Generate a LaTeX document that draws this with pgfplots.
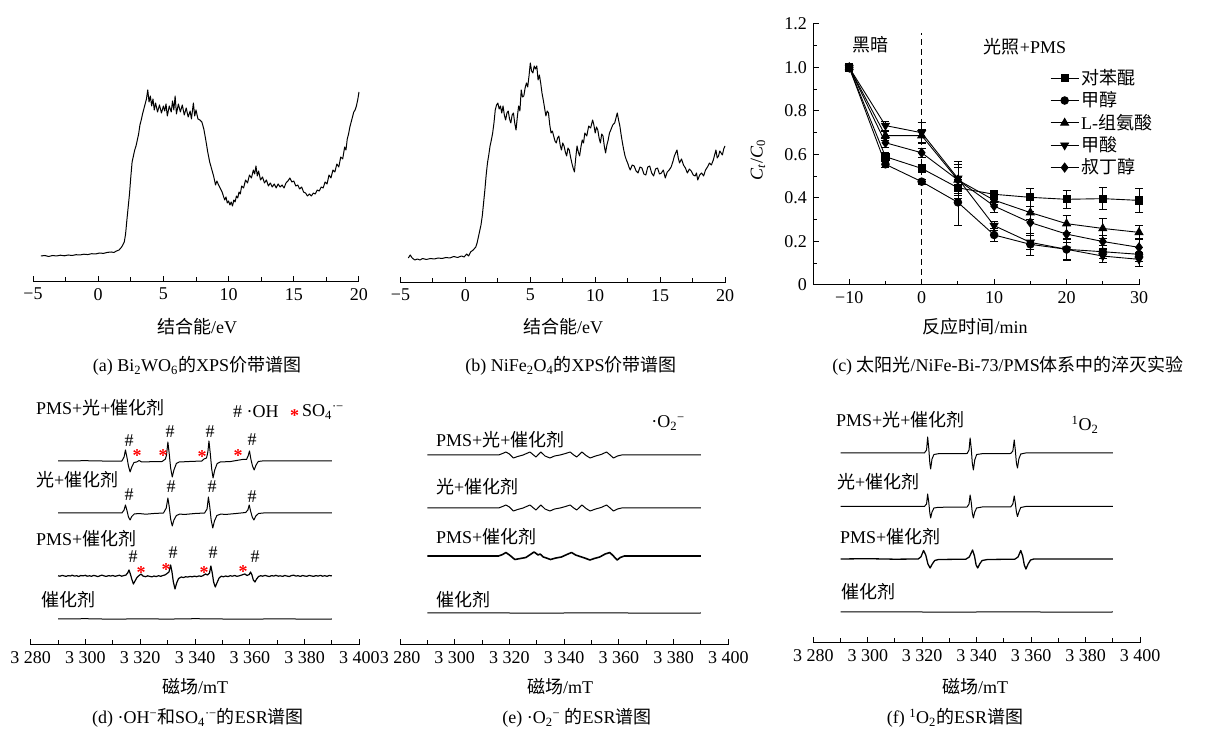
\documentclass[border=0pt]{standalone}
\usepackage{fontspec}
\setmainfont{Liberation Serif}
\newfontfamily\cjk{Noto Sans CJK SC}
\usepackage{pgfplots}
\pgfplotsset{compat=1.18}
\newcommand{\zh}[1]{{\cjk #1}}
\pgfplotsset{
  spec/.style={scale only axis, axis x line*=bottom, axis y line=none, ytick=\empty,
    axis line style={-,line width=1pt}, tick align=inside, major tick length=6pt, minor tick length=5pt,
    every tick/.style={line width=1pt,black}, clip=false,
    tick label style={font=\fontsize{18}{20}\selectfont}},
  xps/.style={spec, xmin=-5, xmax=20, ymin=0, ymax=262, height=262pt,
    xtick={-5,0,5,10,15,20}, xticklabels={−5,0,5,10,15,20}, minor xtick={-2.5,2.5,7.5,12.5,17.5}},
  esr/.style={spec, xmin=3280, xmax=3400, ymin=0, ymax=220, height=220pt,
    xtick={3280,3300,3320,3340,3360,3380,3400},
    xticklabels={3 280,3 300,3 320,3 340,3 360,3 380,3 400},
    minor xtick={3290,3310,3330,3350,3370,3390}},
  tr/.style={black, line width=1pt, line join=round},
  qc/.style={black, line width=0.9pt, mark size=4pt,
    error bars/y dir=both, error bars/y explicit,
    error bars/error bar style={line width=0.7pt,black},
    error bars/error mark options={rotate=90, mark size=4pt, line width=0.7pt, black}},
}
\begin{document}
\fontsize{18}{21}\selectfont
\begin{tikzpicture}
\useasboundingbox (0,0) rectangle (1208pt,731pt);
% ---------------- (a)
\begin{axis}[xps, width=326pt, at={(33pt,449pt)}, anchor=south west]
\addplot[tr] coordinates {(-4.4,26)(-4.1,26.5)(-3.8,25.5)(-3.5,26.5)(-3.2,26)(-2.9,26.8)(-2.6,26.2)(-2.3,27)(-2.0,26.5)(-1.7,27.3)(-1.4,27)(-1.1,27.8)(-0.8,27.4)(-0.5,28.3)(-0.2,28)(0.1,29)(0.4,28.6)(0.7,29.6)(1.0,30)(1.2,29.5)(1.4,31)(1.6,32)(1.8,35)(2.0,40)(2.1,48)(2.2,62)(2.3,75)(2.4,88)(2.5,105)(2.6,120)(2.7,126)(2.8,132)(2.9,136)(3.0,142)(3.1,148)(3.2,157)(3.3,162)(3.4,168)(3.5,173)(3.6,178)(3.7,183)(3.8,192)(3.9,180)(4.0,186)(4.1,176)(4.2,183)(4.3,172)(4.4,179)(4.55,170)(4.7,177)(4.85,169)(5.0,176)(5.1,171)(5.2,178)(5.3,166)(5.45,176)(5.6,170)(5.7,181)(5.8,172)(5.9,186)(6.0,168)(6.15,178)(6.3,170)(6.45,177)(6.6,167)(6.75,174)(6.9,165)(7.05,171)(7.15,163)(7.3,179)(7.4,166)(7.5,172)(7.65,163)(7.8,162)(7.95,160)(8.1,153)(8.25,142)(8.4,130)(8.55,120)(8.7,113)(8.85,106)(9.0,97)(9.1,101)(9.2,98)(9.35,94)(9.5,90)(9.6,86)(9.7,82)(9.8,85)(9.9,79)(10.0,81)(10.1,77)(10.2,80)(10.3,76)(10.4,82)(10.5,80)(10.6,86)(10.7,84)(10.8,90)(10.9,88)(11.0,96)(11.15,94)(11.3,102)(11.45,99)(11.6,107)(11.75,104)(11.9,112)(12.0,108)(12.1,116)(12.2,106)(12.3,111)(12.45,102)(12.6,105)(12.75,99)(12.9,102)(13.05,96)(13.2,99)(13.35,95)(13.5,98)(13.65,94)(13.8,98)(13.95,95)(14.1,97)(14.25,94)(14.4,99)(14.55,101)(14.7,104)(14.85,100)(15.0,101)(15.15,96)(15.3,97)(15.45,93)(15.6,95)(15.75,90)(15.9,89)(16.05,86)(16.2,88)(16.35,86)(16.5,89)(16.65,88)(16.8,92)(16.95,91)(17.1,95)(17.25,94)(17.4,100)(17.55,98)(17.7,107)(17.85,104)(18.0,112)(18.15,110)(18.3,118)(18.45,115)(18.6,125)(18.75,123)(18.9,135)(19.0,132)(19.1,143)(19.2,148)(19.3,155)(19.4,160)(19.5,165)(19.6,170)(19.7,172)(19.8,176)(19.9,182)(20.0,190)};
\end{axis}
% ---------------- (b)
\begin{axis}[xps, width=324.5pt, at={(400.5pt,448pt)}, anchor=south west]
\addplot[tr] coordinates {(-4.4,25)(-4.25,28)(-4.1,25)(-3.9,23)(-3.7,24)(-3.5,23)(-3.3,24.5)(-3.0,23.5)(-2.7,24.5)(-2.4,24)(-2.1,25)(-1.8,24.5)(-1.5,25.5)(-1.2,25)(-0.9,26.5)(-0.6,25.5)(-0.3,27)(-0.1,26)(0.1,29)(0.25,27)(0.4,31)(0.6,33)(0.8,36)(0.9,40)(1.0,46)(1.1,52)(1.2,58)(1.3,67)(1.4,80)(1.5,93)(1.6,108)(1.7,120)(1.8,128)(1.9,137)(2.0,143)(2.1,150)(2.2,160)(2.3,173)(2.4,178)(2.5,180)(2.6,174)(2.7,177)(2.8,170)(2.9,177)(3.0,168)(3.1,163)(3.2,170)(3.3,172)(3.4,164)(3.5,160)(3.6,168)(3.7,170)(3.8,160)(3.9,153)(4.0,166)(4.1,177)(4.2,172)(4.3,193)(4.4,186)(4.5,187)(4.6,195)(4.7,200)(4.8,196)(4.9,207)(5.0,220)(5.1,212)(5.2,210)(5.3,217)(5.4,214)(5.5,217)(5.6,203)(5.7,208)(5.8,200)(5.9,190)(6.0,183)(6.1,175)(6.2,167)(6.3,172)(6.4,170)(6.5,158)(6.6,150)(6.7,152)(6.8,147)(6.9,142)(7.0,140)(7.1,145)(7.2,147)(7.3,138)(7.4,133)(7.5,140)(7.6,137)(7.7,131)(7.8,127)(7.9,135)(8.0,133)(8.1,126)(8.2,120)(8.3,115)(8.4,111)(8.5,125)(8.6,137)(8.7,131)(8.8,127)(8.9,136)(9.0,143)(9.1,140)(9.2,150)(9.35,147)(9.5,157)(9.65,155)(9.8,163)(9.9,158)(10.0,150)(10.1,156)(10.2,153)(10.3,145)(10.4,140)(10.5,149)(10.6,147)(10.7,137)(10.8,130)(10.9,138)(11.0,143)(11.1,150)(11.2,153)(11.35,158)(11.5,160)(11.6,165)(11.7,170)(11.8,163)(11.9,157)(12.0,148)(12.1,140)(12.2,133)(12.3,127)(12.4,123)(12.5,120)(12.6,116)(12.7,113)(12.85,118)(13.0,117)(13.15,112)(13.3,110)(13.45,116)(13.6,115)(13.75,109)(13.9,108)(14.05,116)(14.2,117)(14.35,110)(14.5,107)(14.65,114)(14.8,115)(14.95,109)(15.1,110)(15.25,113)(15.4,105)(15.55,111)(15.7,113)(15.85,116)(16.0,122)(16.1,127)(16.2,130)(16.3,133)(16.4,125)(16.5,120)(16.65,124)(16.8,118)(16.95,115)(17.1,110)(17.25,114)(17.4,112)(17.55,108)(17.7,107)(17.8,110)(17.9,103)(18.05,108)(18.2,110)(18.35,107)(18.5,113)(18.65,116)(18.8,120)(18.95,118)(19.1,123)(19.2,128)(19.3,133)(19.4,125)(19.5,127)(19.6,132)(19.7,130)(19.8,128)(19.9,134)(20.0,137)};
\end{axis}
% ---------------- (c)
\begin{axis}[scale only axis, width=326pt, height=261pt, at={(813pt,446pt)}, anchor=south west,
  xmin=-15, xmax=30, ymin=0, ymax=1.2, axis lines*=left, axis line style={-,line width=1pt},
  tick align=inside, major tick length=6pt, minor tick length=4pt, every tick/.style={line width=1pt,black},
  xtick={-10,0,10,20,30}, xticklabels={−10,0,10,20,30}, minor xtick={-5,5,15,25},
  ytick={0,0.2,0.4,0.6,0.8,1.0,1.2}, yticklabels={0,0.2,0.4,0.6,0.8,1.0,1.2},
  minor ytick={0.1,0.3,0.5,0.7,0.9,1.1}, clip=false,
  tick label style={font=\fontsize{18}{20}\selectfont},
  legend style={draw=none, fill=none, at={(0.727,0.835)}, anchor=north west,
    font=\fontsize{18}{20}\selectfont, row sep=0.5pt, inner sep=0pt},
  legend cell align=left,
  legend image code/.code={\draw[mark repeat=2,mark phase=2] plot coordinates {(0pt,0pt) (14pt,0pt) (28pt,0pt)};}]
\addplot[qc, mark=square*, mark size=3.6pt] coordinates {(-10,1.0) +- (0,0) (-5,0.59) +- (0,0.02) (0,0.536) +- (0,0.02) (5,0.447) +- (0,0.05) (10,0.417) +- (0,0.02) (15,0.403) +- (0,0.04) (20,0.394) +- (0,0.04) (25,0.397) +- (0,0.05) (30,0.389) +- (0,0.055)};
\addlegendentry{\zh{对苯醌}}
\addplot[qc, mark=*, mark size=3.8pt] coordinates {(-10,1.0) +- (0,0) (-5,0.555) +- (0,0.012) (0,0.475) +- (0,0.012) (5,0.38) +- (0,0.105) (10,0.23) +- (0,0.03) (15,0.187) +- (0,0.05) (20,0.164) +- (0,0.045) (25,0.153) +- (0,0.03) (30,0.141) +- (0,0.03)};
\addlegendentry{\zh{甲醇}}
\addplot[qc, mark=triangle*, mark size=4.5pt] coordinates {(-10,1.0) +- (0,0) (-5,0.687) +- (0,0.02) (0,0.687) +- (0,0.03) (5,0.483) +- (0,0.07) (10,0.39) +- (0,0.02) (15,0.333) +- (0,0.03) (20,0.282) +- (0,0.04) (25,0.26) +- (0,0.045) (30,0.242) +- (0,0.03)};
\addlegendentry{L-\zh{组氨酸}}
\addplot[qc, mark=triangle*, mark size=4.5pt, mark options={rotate=180}] coordinates {(-10,1.0) +- (0,0) (-5,0.733) +- (0,0.02) (0,0.70) +- (0,0.05) (5,0.49) +- (0,0.08) (10,0.273) +- (0,0.02) (15,0.196) +- (0,0.03) (20,0.164) +- (0,0.05) (25,0.133) +- (0,0.03) (30,0.118) +- (0,0.03)};
\addlegendentry{\zh{甲酸}}
\addplot[qc, mark=diamond*, mark size=4.5pt] coordinates {(-10,1.0) +- (0,0) (-5,0.654) +- (0,0.02) (0,0.608) +- (0,0.02) (5,0.483) +- (0,0.06) (10,0.363) +- (0,0.03) (15,0.287) +- (0,0.05) (20,0.234) +- (0,0.04) (25,0.2) +- (0,0.03) (30,0.173) +- (0,0.04)};
\addlegendentry{\zh{叔丁醇}}
\addplot[black, dash pattern=on 6pt off 4pt, line width=1pt, forget plot] coordinates {(0,0) (0,1.16)};
\end{axis}
% ---------------- (d)
\begin{axis}[esr, width=328.6pt, at={(30.7pt,86pt)}, anchor=south west]
\addplot[tr] coordinates {(3290,184)(3300,184.3)(3310,183.8)(3313.3,184)(3314.1,188)(3314.6,195)(3315.2,187)(3315.7,179)(3316.3,173)(3316.9,178)(3317.7,182.5)(3318.7,183)(3319.6,184.5)(3320.5,183)(3324,183.3)(3328,183.5)(3329.2,186)(3329.6,190)(3330.1,203)(3330.6,191)(3331.1,177)(3331.7,168)(3332.3,175)(3333.2,181.5)(3334.2,183)(3338,183.5)(3342.5,184)(3343.3,186)(3344.2,187)(3344.7,193)(3345.1,204)(3345.6,191)(3346.1,176)(3346.6,167)(3347.2,175)(3348.1,181.5)(3349.2,183)(3353,183.5)(3357.3,185.5)(3358.8,185.5)(3359.4,189)(3359.9,194)(3360.4,186)(3361,179)(3361.6,175)(3362.3,180)(3363.1,183.5)(3364.5,184)(3375,184)(3390,184)};
\addplot[tr] coordinates {(3290,132)(3313.3,132)(3314.1,135)(3314.6,140)(3315.2,134)(3315.7,128)(3316.3,125)(3316.9,128.5)(3317.8,131)(3319.5,131.5)(3322,130.8)(3325,131.5)(3328.5,132)(3329.5,137)(3330.1,147)(3330.6,138)(3331.1,126)(3331.7,119)(3332.3,125)(3333.2,129.5)(3334.5,131)(3336,130.5)(3340,131.5)(3343.5,132)(3344.4,136)(3344.9,148)(3345.4,138)(3345.9,125)(3346.5,117)(3347.1,124)(3348,129.5)(3349.5,131)(3351,130.5)(3355,131.5)(3358.5,132.5)(3359.3,135)(3359.8,140)(3360.3,134)(3360.9,128)(3361.5,125)(3362.2,129)(3363.2,131.5)(3365,132)(3390,132)};
\addplot[tr, line width=1.2pt] coordinates {(3290,69.2)(3290.7,68.8)(3291.5,69.6)(3292.2,69.1)(3293,68.6)(3293.6,69.4)(3294.5,69.0)(3295.1,69.8)(3296,68.9)(3296.8,69.3)(3297.5,68.5)(3298.3,69.5)(3299,69.1)(3300,69.7)(3300.6,68.8)(3301.5,69.2)(3302.2,68.7)(3303,69.6)(3303.9,69.0)(3304.5,68.4)(3305.4,69.3)(3306,69.9)(3306.9,69.0)(3307.6,68.6)(3308.5,69.4)(3309.2,68.9)(3310,69.5)(3310.8,68.7)(3311.6,69.2)(3312.4,69.8)(3313.2,68.8)(3314,69.4)(3314.8,70)(3315.4,72)(3315.9,75)(3316.4,71)(3316.9,66)(3317.5,61)(3318.1,64)(3318.8,67.5)(3319.6,69.5)(3320.3,71)(3321,69)(3322,68.3)(3322.7,69.2)(3323.5,68.6)(3324.3,68.1)(3325,69.0)(3325.8,68.4)(3326.7,69.3)(3327.5,68.7)(3328.3,69.5)(3329,70)(3329.8,71.5)(3330.5,73)(3331.1,80)(3331.6,73)(3332.1,63)(3332.7,56)(3333.3,62)(3334,66.5)(3335,68)(3335.8,67.4)(3336.6,68.3)(3337.3,67.9)(3338.2,68.6)(3339,68.1)(3339.8,68.9)(3340.6,68.3)(3341.5,69.1)(3342.3,68.6)(3343,69.5)(3343.8,71)(3344.6,70)(3345.3,72)(3345.8,79)(3346.3,72)(3346.8,63)(3347.4,58)(3348,62)(3348.8,67)(3349.6,68.8)(3350.4,68.2)(3351.2,69.0)(3352,68.4)(3352.9,69.3)(3353.6,68.8)(3354.5,69.5)(3355.3,68.7)(3356.2,69.2)(3357.3,70.2)(3358.2,71)(3359,69.5)(3359.8,70.5)(3360.3,73)(3360.8,70)(3361.3,65)(3361.9,63)(3362.5,66)(3363.2,68.5)(3364,69.3)(3364.7,68.8)(3365.6,69.6)(3366.3,69.0)(3367.1,68.5)(3368,69.4)(3368.8,68.9)(3369.5,69.7)(3370.4,68.8)(3371.1,69.2)(3372,68.6)(3372.8,69.5)(3373.5,69.0)(3374.4,68.5)(3375.2,69.4)(3376,69.8)(3376.9,68.9)(3377.6,69.3)(3378.5,68.6)(3379.3,69.5)(3380,69.0)(3380.9,68.7)(3381.7,69.6)(3382.5,69.1)(3383.3,68.6)(3384.1,69.4)(3385,68.9)(3385.8,69.6)(3386.6,68.8)(3387.4,69.3)(3388.2,68.7)(3389,69.5)(3390,69.1)};
\addplot[tr] coordinates {(3290,26)(3300,26.3)(3310,25.8)(3320,26.2)(3330,25.9)(3340,26.3)(3350,26)(3360,25.8)(3370,26.2)(3380,25.9)(3390,26)};
\end{axis}
% ---------------- (e)
\begin{axis}[esr, width=328.3pt, at={(400pt,86pt)}, anchor=south west]
\addplot[tr] coordinates {(3290,190)(3316,190)(3317.5,191.5)(3318.7,193)(3320,191)(3321.4,187)(3323,188.5)(3325,190)(3327.5,193)(3328.8,190)(3329.7,188)(3331.5,193)(3333,189)(3334.8,187)(3336.5,189)(3338.5,190)(3340.5,191.5)(3342.2,193)(3343.5,190)(3344.6,188)(3346.5,193)(3348,189.5)(3349.5,187)(3351.5,189)(3353.5,190.5)(3355.5,193)(3356.8,190)(3358,187)(3359.5,189)(3361,190)(3390,190)};
\addplot[tr] coordinates {(3290,137)(3316,137)(3317.5,138.5)(3318.7,140)(3320,138)(3321.4,134)(3323,135.5)(3325,137)(3327.5,140)(3328.8,137)(3329.7,135)(3331.5,140)(3333,136)(3334.8,134)(3336.5,136)(3338.5,137)(3340.5,138.5)(3342.2,140)(3343.5,137)(3344.6,135)(3346.5,140)(3348,136.5)(3349.5,134)(3351.5,136)(3353.5,137.5)(3355.5,140)(3356.8,137)(3358,134)(3359.5,136)(3361,137)(3390,137)};
\addplot[tr, line width=1.6pt] coordinates {(3290,89)(3316,89)(3317.5,90.5)(3318.7,92.5)(3320,90)(3322,85.5)(3324,86.5)(3326,87.5)(3329,93)(3330.5,90)(3331.2,91)(3332.4,88)(3333.5,87)(3335,85.5)(3337,87)(3339,88)(3341,90.5)(3342.7,92.5)(3344.2,90)(3345.8,88.5)(3347.5,87)(3349.4,85)(3351,86.5)(3353,88)(3355,91)(3356.7,92.5)(3358,89)(3359.4,85)(3360.5,87.5)(3362,89)(3390,89)};
\addplot[tr] coordinates {(3290,32)(3310,32.2)(3330,31.8)(3350,32.2)(3370,31.9)(3390,32)};
\end{axis}
% ---------------- (f)
\begin{axis}[esr, width=326.7pt, at={(813.3pt,88pt)}, anchor=south west]
\addplot[tr] coordinates {(3290,190)(3320.8,190)(3321.6,193)(3322.0,206)(3322.4,195)(3322.8,180)(3323.1,174)(3323.6,184)(3324.3,188.5)(3326,189.3)(3336.5,189.5)(3337.2,193)(3337.6,205)(3338.0,195)(3338.4,180)(3338.8,173)(3339.3,183)(3340,188.5)(3342,189.3)(3352.5,189.5)(3353.3,192)(3353.8,203)(3354.2,193)(3354.6,180)(3355,175)(3355.5,184)(3356.2,189)(3358,190)(3390,190)};
\addplot[tr] coordinates {(3290,136.5)(3320.8,136.5)(3321.6,139)(3322.0,149)(3322.4,141)(3322.8,130)(3323.1,125)(3323.6,131)(3324.3,135)(3326,135.7)(3336.5,136)(3337.2,139)(3337.6,148)(3338.0,141)(3338.4,130)(3338.8,125)(3339.3,131)(3340,135)(3342,136)(3352.5,136)(3353.3,139)(3353.8,147)(3354.2,140)(3354.6,131)(3355,126.5)(3355.5,131)(3356.2,135.5)(3358,136.5)(3390,136.5)};
\addplot[tr, line width=1.3pt] coordinates {(3290,84)(3300,84.3)(3310,83.8)(3318.5,84)(3319.5,86)(3320.5,92.5)(3321.3,88)(3322.1,79)(3322.9,75)(3323.7,79)(3324.6,82.5)(3326,83.5)(3336,83.8)(3337.3,86)(3338.5,93)(3339.2,87)(3339.8,78)(3340.4,75)(3341.1,79)(3342,82.5)(3344,83.5)(3354,83.8)(3355.2,86)(3356.2,92.5)(3356.9,87)(3357.5,78)(3358.1,74)(3358.9,79)(3359.8,83)(3361,84)(3390,84)};
\addplot[tr] coordinates {(3290,31)(3310,31.2)(3330,30.8)(3350,31.2)(3370,30.9)(3390,31)};
\end{axis}
% ---------------- texts
\begin{scope}[x=1pt,y=-1pt,yshift=731pt]
\node at (197,327) {\zh{结合能}/eV};
\node at (563,327) {\zh{结合能}/eV};
\node at (975,327) {\zh{反应时间}/min};
\node at (197,366) {(a) Bi\textsubscript{2}WO\textsubscript{6}\zh{的}XPS\zh{价带谱图}};
\node at (571,366) {(b) NiFe\textsubscript{2}O\textsubscript{4}\zh{的}XPS\zh{价带谱图}};
\node at (1008,366) {(c) \zh{太阳光}/NiFe-Bi-73/PMS\zh{体系中的淬灭实验}};
\node[rotate=90] at (758,160) {\textit{C}\textsubscript{\textit{t}}/\textit{C}\textsubscript{0}};
\node at (870,45) {\zh{黑暗}};
\node at (1025,47) {\zh{光照}+PMS};
% d
\node[anchor=west] at (30,408) {PMS+\zh{光}+\zh{催化剂}};
\node[anchor=west] at (30,480) {\zh{光}+\zh{催化剂}};
\node[anchor=west] at (30,539) {PMS+\zh{催化剂}};
\node[anchor=west] at (35,600) {\zh{催化剂}};
\node[anchor=west] at (227,412) {\# ·OH};
\node[anchor=west, red] at (284,416) {\textbf{*}};
\node[anchor=west] at (296,412) {SO\textsubscript{4}\textsuperscript{·−}};
\foreach \x/\y in {129/441,170/432,210/432,252/440,129/495,171/487,212/487,252/497,133/557,173/553,213/553,255/557}
  \node at (\x,\y) {\#};
\foreach \x/\y in {137/456,163/456,202/457,238/456,141/573,166/570,204/573,243/572}
  \node[red] at (\x,\y) {\textbf{*}};
\node at (195,687) {\zh{磁场}/mT};
\node at (198,718) {(d) ·OH\textsuperscript{−}\zh{和}SO\textsubscript{4}\textsuperscript{·−}\zh{的}ESR\zh{谱图}};
% e
\node[anchor=west] at (430,440) {PMS+\zh{光}+\zh{催化剂}};
\node[anchor=west] at (430,487) {\zh{光}+\zh{催化剂}};
\node[anchor=west] at (430,537) {PMS+\zh{催化剂}};
\node[anchor=west] at (430,600) {\zh{催化剂}};
\node at (668,423) {·O\textsubscript{2}\textsuperscript{−}};
\node at (560,687) {\zh{磁场}/mT};
\node at (577,718) {(e) ·O\textsubscript{2}\textsuperscript{−} \zh{的}ESR\zh{谱图}};
% f
\node[anchor=west] at (830,420) {PMS+\zh{光}+\zh{催化剂}};
\node[anchor=west] at (831,482) {\zh{光}+\zh{催化剂}};
\node[anchor=west] at (834,537) {PMS+\zh{催化剂}};
\node[anchor=west] at (835,592) {\zh{催化剂}};
\node at (1085,425) {\textsuperscript{1}O\textsubscript{2}};
\node at (975,687) {\zh{磁场}/mT};
\node at (955,718) {(f) \textsuperscript{1}O\textsubscript{2}\zh{的}ESR\zh{谱图}};
\end{scope}
\end{tikzpicture}
\end{document}
